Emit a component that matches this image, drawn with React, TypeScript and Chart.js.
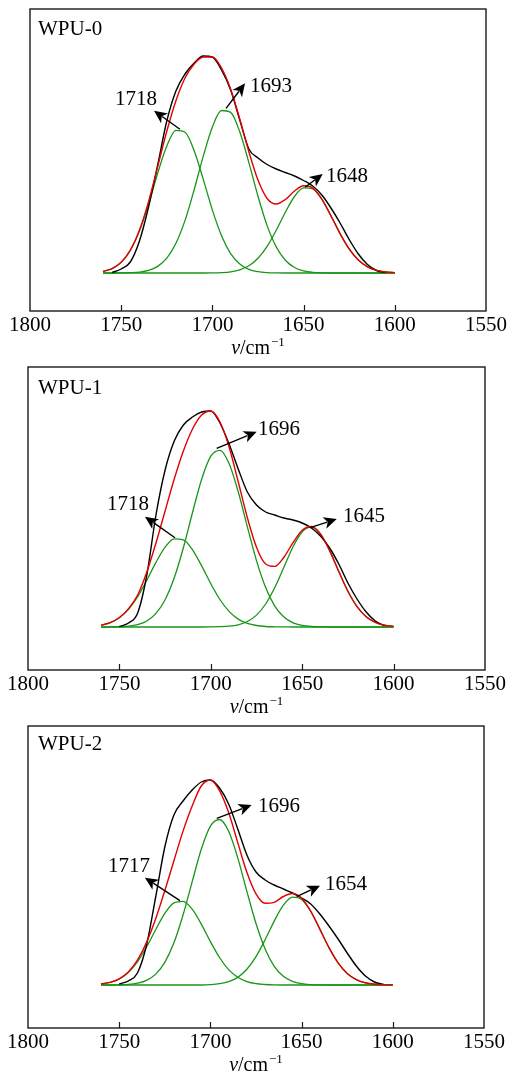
import { useEffect, useRef } from "react";
import { Chart, registerables } from "chart.js";

Chart.register(...registerables);

// ---------- data ----------
const WAVENUMBER = [1760, 1755, 1750, 1745, 1740, 1735, 1730, 1725, 1720, 1715, 1710, 1705, 1700, 1695, 1690, 1685, 1680, 1675, 1670, 1665, 1660, 1655, 1650, 1645, 1640, 1635, 1630, 1625, 1620, 1615, 1610, 1605, 1600];
const X_TICKS = [1800, 1750, 1700, 1650, 1600, 1550];

// WPU-0
const WPU0_MEASURED = [null, 0.5, 4, 11, 32, 66, 108, 152, 182, 199, 210, 217, 216, 203, 183, 153, 124, 115, 108.5, 104, 100.5, 97, 92.5, 87, 78, 65, 50, 33.5, 19, 8.5, 2.5, 0.3, null];
const WPU0_FITTED = [1.6, 4.4, 10.7, 22.8, 42.8, 71.4, 106.4, 141.8, 172.3, 195, 209, 216, 216, 205, 184, 154, 121.3, 92.9, 74.5, 69.0, 73.5, 82.0, 87.2, 84.9, 73.9, 57.2, 39.4, 24.0, 13.0, 6.2, 2.6, 1.0, 0.3];
const WPU0_PEAK_1718 = [1.6, 4.4, 10.6, 22.5, 41.9, 68.8, 99.8, 127.0, 142.6, 140.7, 122.3, 93.6, 62.9, 37.3, 19.4, 9.0, 3.6, 1.3, 0.4, 0.1, 0, 0, 0, 0, 0, 0, 0, 0, 0, 0, 0, 0, 0];
const WPU0_PEAK_1693 = [0, 0, 0.1, 0.3, 0.9, 2.6, 6.6, 14.8, 29.7, 52.6, 83.3, 116.9, 146.1, 162.5, 160.6, 141.2, 110.4, 76.8, 47.4, 26.1, 12.7, 5.5, 2.1, 0.7, 0.2, 0, 0, 0, 0, 0, 0, 0, 0];
const WPU0_PEAK_1648 = [0, 0, 0, 0, 0, 0, 0, 0, 0, 0, 0, 0, 0.1, 0.4, 1.2, 3.2, 7.3, 14.8, 26.7, 42.8, 60.8, 76.5, 85.1, 84.2, 73.7, 57.2, 39.4, 24.0, 13.0, 6.2, 2.6, 1.0, 0.3];

// WPU-1
const WPU1_MEASURED = [null, null, 0.5, 4, 14, 52, 112, 157, 186, 202, 210, 215, 216, 204, 183, 158, 135, 122, 115, 112, 109, 107, 104, 99, 91, 79, 63, 44, 28, 15, 6, 1, null];
const WPU1_FITTED = [1.8, 4.3, 9.5, 18.4, 32, 55, 84, 116, 148, 176, 198, 212, 216, 205, 180, 145.3, 109.3, 79.8, 63.0, 60.6, 69.8, 84.4, 96.8, 100.5, 93.1, 76.4, 55.6, 35.8, 20.4, 10.3, 4.6, 1.8, 0.6];
const WPU1_PEAK_1718 = [1.8, 4.3, 9.2, 17.6, 30.3, 46.8, 64.6, 79.8, 88.2, 87.2, 77.2, 61.1, 43.3, 27.5, 15.6, 7.9, 3.6, 1.5, 0.5, 0.2, 0.1, 0, 0, 0, 0, 0, 0, 0, 0, 0, 0, 0, 0];
const WPU1_PEAK_1696 = [0, 0, 0.3, 0.8, 2.4, 6.0, 13.6, 27.3, 49.2, 79.3, 114.5, 147.8, 170.8, 176.6, 163.4, 135.2, 100.2, 66.4, 39.5, 20.9, 9.9, 4.2, 1.6, 0.5, 0.2, 0, 0, 0, 0, 0, 0, 0, 0];
const WPU1_PEAK_1645 = [0, 0, 0, 0, 0, 0, 0, 0, 0, 0, 0, 0, 0.1, 0.3, 0.8, 2.2, 5.5, 11.9, 23.0, 39.5, 59.8, 80.2, 95.2, 99.9, 92.9, 76.4, 55.6, 35.8, 20.4, 10.3, 4.6, 1.8, 0.6];

// WPU-2
const WPU2_MEASURED = [null, null, 1, 4, 12, 40, 88, 138, 170, 184, 195, 203, 205, 197, 181, 156, 130, 113, 105, 100, 96, 92, 87, 81, 71, 59, 46, 32, 19, 9, 3, 0.5, null];
const WPU2_FITTED = [1.0, 2.6, 6.2, 13.1, 24.9, 42.6, 66.2, 94.3, 124.3, 153.9, 179.0, 199, 205, 194.3, 172.4, 142.4, 112.7, 91.2, 81.8, 82.7, 88.5, 91.5, 86.8, 73.9, 55.9, 37.4, 22.2, 11.6, 5.4, 2.2, 0.8, 0.3, 0.1];
const WPU2_PEAK_1717 = [1.0, 2.6, 6.0, 12.5, 23.1, 38.0, 55.3, 71.6, 82.1, 83.7, 75.8, 60.9, 43.4, 27.5, 15.4, 7.7, 3.4, 1.3, 0.5, 0.1, 0, 0, 0, 0, 0, 0, 0, 0, 0, 0, 0, 0, 0];
const WPU2_PEAK_1696 = [0, 0, 0.2, 0.6, 1.8, 4.6, 10.9, 22.7, 42.2, 70.0, 103.2, 135.7, 158.8, 165.5, 153.7, 127.1, 93.6, 61.5, 36.0, 18.7, 8.7, 3.6, 1.3, 0.4, 0.1, 0, 0, 0, 0, 0, 0, 0, 0];
const WPU2_PEAK_1654 = [0, 0, 0, 0, 0, 0, 0, 0, 0, 0, 0, 0, 0.4, 1.3, 3.3, 7.6, 15.7, 28.4, 45.3, 63.9, 79.8, 87.9, 85.5, 73.5, 55.8, 37.4, 22.2, 11.6, 5.4, 2.2, 0.8, 0.3, 0.1];

// peak annotations (data coordinates: wavenumber, intensity)
const WPU0_NOTES = [
  { text: "1718", from: [1717.8, 143.7], tip: [1732, 162.3], at: [1753.4, 168] },
  { text: "1693", from: [1692.5, 164.7], tip: [1682.1, 189.7], at: [1679.4, 181] },
  { text: "1648", from: [1649.2, 85.7], tip: [1639.5, 99], at: [1637.7, 91] },
];
const WPU1_NOTES = [
  { text: "1718", from: [1719.6, 89.3], tip: [1736, 110.3], at: [1756.8, 117] },
  { text: "1696", from: [1696.8, 178.7], tip: [1674.9, 195.3], at: [1674.2, 192] },
  { text: "1645", from: [1645.7, 99.3], tip: [1631.1, 108], at: [1627.7, 105] },
];
const WPU2_NOTES = [
  { text: "1717", from: [1716.7, 84.3], tip: [1735.9, 107.3], at: [1756.1, 113.3] },
  { text: "1696", from: [1696.5, 166.7], tip: [1677.4, 180], at: [1673.9, 173.3] },
  { text: "1654", from: [1652.7, 88.3], tip: [1639.9, 99.3], at: [1637.2, 95] },
];

// ---------- layout / style ----------
const SERIF = '"Liberation Serif", "Times New Roman", serif';
const RED = "rgb(226,0,0)";
const GREEN = "rgb(24,150,24)";
const BLACK = "#000";

const PANELS = [
  { name: "WPU-0", measured: WPU0_MEASURED, fitted: WPU0_FITTED, peaks: [WPU0_PEAK_1718, WPU0_PEAK_1693, WPU0_PEAK_1648], notes: WPU0_NOTES,
    yMin: -38, yMax: 264, top: 0, height: 370, padLeft: 30, padRight: 27, axisHeight: 59, nameDx: 8, nameDy: 26 },
  { name: "WPU-1", measured: WPU1_MEASURED, fitted: WPU1_FITTED, peaks: [WPU1_PEAK_1718, WPU1_PEAK_1696, WPU1_PEAK_1645], notes: WPU1_NOTES,
    yMin: -43, yMax: 260, top: 358, height: 370, padLeft: 28, padRight: 28, axisHeight: 58, nameDx: 10, nameDy: 27 },
  { name: "WPU-2", measured: WPU2_MEASURED, fitted: WPU2_FITTED, peaks: [WPU2_PEAK_1717, WPU2_PEAK_1696, WPU2_PEAK_1654], notes: WPU2_NOTES,
    yMin: -43, yMax: 259, top: 717, height: 360, padLeft: 28, padRight: 29, axisHeight: 49, nameDx: 10, nameDy: 24 },
];

type Panel = (typeof PANELS)[number];

const toPoints = (arr: (number | null)[]) => WAVENUMBER.map((x, i) => ({ x, y: arr[i] }));

function makeDecor(panel: Panel) {
  return {
    id: "decor",
    afterDatasetsDraw(chart: any) {
      const { ctx, chartArea: a, scales } = chart;
      const xs = scales.x;
      const ys = scales.y;
      ctx.save();
      // frame
      ctx.strokeStyle = "#1a1a1a";
      ctx.lineWidth = 1.4;
      ctx.strokeRect(a.left, a.top, a.right - a.left, a.bottom - a.top);
      // inward tick marks
      ctx.beginPath();
      X_TICKS.forEach((v) => {
        const px = Math.round(xs.getPixelForValue(v)) + 0.5;
        if (px > a.left + 2 && px < a.right - 2) {
          ctx.moveTo(px, a.bottom);
          ctx.lineTo(px, a.bottom - 6);
        }
      });
      ctx.lineWidth = 1.2;
      ctx.stroke();

      ctx.fillStyle = "#000";
      ctx.textAlign = "left";
      ctx.textBaseline = "alphabetic";
      // panel name
      ctx.font = `21px ${SERIF}`;
      ctx.fillText(panel.name, a.left + panel.nameDx, a.top + panel.nameDy);

      // peak annotations with arrows
      panel.notes.forEach((n) => {
        const x0 = xs.getPixelForValue(n.from[0]);
        const y0 = ys.getPixelForValue(n.from[1]);
        const x1 = xs.getPixelForValue(n.tip[0]);
        const y1 = ys.getPixelForValue(n.tip[1]);
        const ang = Math.atan2(y1 - y0, x1 - x0);
        const head = 13;
        const hw = 6;
        const c = Math.cos(ang);
        const s = Math.sin(ang);
        const bx = x1 - head * c;
        const by = y1 - head * s;
        ctx.strokeStyle = "#000";
        ctx.lineWidth = 1.4;
        ctx.beginPath();
        ctx.moveTo(x0, y0);
        ctx.lineTo(bx + 3 * c, by + 3 * s);
        ctx.stroke();
        ctx.beginPath();
        ctx.moveTo(x1, y1);
        ctx.lineTo(bx - hw * s, by + hw * c);
        ctx.lineTo(bx + 3.5 * c, by + 3.5 * s);
        ctx.lineTo(bx + hw * s, by - hw * c);
        ctx.closePath();
        ctx.fill();
        ctx.font = `21px ${SERIF}`;
        ctx.fillText(n.text, xs.getPixelForValue(n.at[0]), ys.getPixelForValue(n.at[1]));
      });

      // axis title  ν/cm⁻¹
      const italic = `italic 20px ${SERIF}`;
      const normal = `20px ${SERIF}`;
      const sup = `13px ${SERIF}`;
      ctx.font = italic;
      const w1 = ctx.measureText("ν").width;
      ctx.font = normal;
      const w2 = ctx.measureText("/cm").width;
      ctx.font = sup;
      const w3 = ctx.measureText("−1").width;
      const total = w1 + w2 + w3 + 1;
      let tx = (a.left + a.right) / 2 - total / 2;
      const ty = a.bottom + 43;
      ctx.font = italic;
      ctx.fillText("ν", tx, ty);
      tx += w1;
      ctx.font = normal;
      ctx.fillText("/cm", tx, ty);
      tx += w2 + 1;
      ctx.font = sup;
      ctx.fillText("−1", tx, ty - 8);
      ctx.restore();
    },
  };
}

function PanelChart({ panel }: { panel: Panel }) {
  const ref = useRef<HTMLCanvasElement | null>(null);
  useEffect(() => {
    if (!ref.current) return;
    const line = (data: (number | null)[], color: string, order: number, width: number, label: string) => ({
      label,
      data: toPoints(data),
      borderColor: color,
      backgroundColor: color,
      borderWidth: width,
      pointRadius: 0,
      fill: false,
      order,
      cubicInterpolationMode: "monotone" as const,
    });
    const chart = new Chart(ref.current, {
      type: "line",
      data: {
        datasets: [
          line(panel.fitted, RED, 0, 1.4, "fitted"),
          line(panel.measured, BLACK, 1, 1.4, "measured"),
          ...panel.peaks.map((p, i) => line(p, GREEN, 2, 1.3, `peak ${i + 1}`)),
        ],
      },
      options: {
        animation: false,
        responsive: false,
        devicePixelRatio: 1,
        layout: { padding: { left: panel.padLeft, right: panel.padRight, top: 9, bottom: 0 } },
        plugins: { legend: { display: false }, tooltip: { enabled: false } },
        scales: {
          x: {
            type: "linear",
            reverse: true,
            min: 1550,
            max: 1800,
            grid: { display: false, drawTicks: false, tickLength: 0 },
            border: { display: false },
            ticks: {
              color: "#000",
              font: { family: SERIF, size: 21 },
              padding: 2,
              maxRotation: 0,
              autoSkip: false,
              callback: (v: any) => String(v),
            },
            afterBuildTicks: (s: any) => {
              s.ticks = X_TICKS.map((v) => ({ value: v }));
            },
            afterFit: (s: any) => {
              s.height = panel.axisHeight;
            },
          },
          y: { display: false, min: panel.yMin, max: panel.yMax },
        },
      },
      plugins: [makeDecor(panel)],
    } as any);
    return () => chart.destroy();
  }, [panel]);
  return (
    <canvas
      ref={ref}
      width={513}
      height={panel.height}
      style={{ position: "absolute", left: 0, top: panel.top, width: 513, height: panel.height }}
    />
  );
}

export default function App() {
  return (
    <div style={{ position: "absolute", left: 0, top: 0, width: 513, height: 1077, overflow: "hidden", background: "#fff" }}>
      {PANELS.map((p) => (
        <PanelChart key={p.name} panel={p} />
      ))}
    </div>
  );
}
